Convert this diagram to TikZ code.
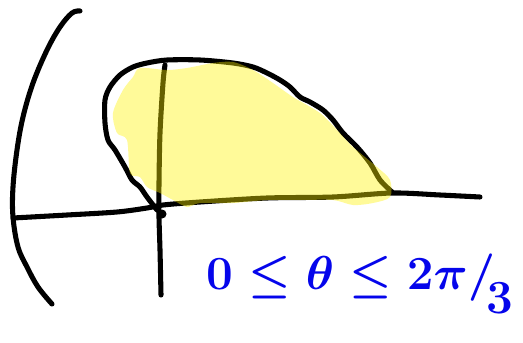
\documentclass[tikz,border=0pt]{standalone}
\usepackage{amsmath,amssymb}
\usepackage{xcolor}

\definecolor{penblue}{RGB}{5,5,235}

\tikzset{
  pen/.style={line width=3.8pt, line cap=round, line join=round},
  marker/.style={fill=yellow, fill opacity=0.4, draw=none}
}

\begin{document}
\begin{tikzpicture}[x=0.75pt, y=-0.75pt]
\useasboundingbox (0,0) rectangle (523,342);
\coordinate (O) at (159,209);
\coordinate (E) at (392,193);

\draw[pen] plot[smooth, tension=0.6] coordinates {(80,11) (72,13) (60,27) (47,50) (33,83) (23,117) (17,150) (13,187) (13,217) (18,247) (27,267) (38,287) (52,304)};

\draw[pen] plot[smooth, tension=0.5] coordinates {(13,218) (67,215) (117,212) (147,208) (163,205) (200,202) (267,198) (333,197) (392,193) (440,195) (480,197)};
\draw[pen] plot[smooth, tension=0.5] coordinates {(165,65) (163,83) (160,133) (159,183) (159,217) (160,250) (161,295)};
\fill (O) ++(3,5) circle (4.5);

\draw[pen] (O) plot[smooth, tension=0.5] coordinates {(157,210) (147,197) (140,187) (132,180) (125,167) (115,150) (108,140) (105,123) (105,100) (110,87) (120,75) (133,67) (147,63) (167,60) (200,60) (233,63) (253,67) (267,73) (280,80) (290,87) (300,97) (310,102) (323,110) (333,120) (343,133) (357,147) (370,163) (380,180) (392,192)};

\fill[marker] plot[smooth cycle, tension=0.5] coordinates {(140,68) (167,70) (187,68) (213,63) (233,62) (253,70) (273,83) (293,97) (320,113) (337,130) (353,147) (377,167) (390,180) (390,197) (373,203) (353,205) (333,200) (300,200) (267,200) (233,203) (200,203) (187,207) (173,200) (160,193) (147,187) (140,177) (130,173) (127,140) (117,133) (113,113) (123,90) (133,77)};

\node[text=penblue, anchor=west, scale=1.72, font=\huge\boldmath] (range) at (198,284) {$0 \leq \theta \leq 2\pi/\!\lower0.5em\hbox{$3$}$};
\end{tikzpicture}
\end{document}
